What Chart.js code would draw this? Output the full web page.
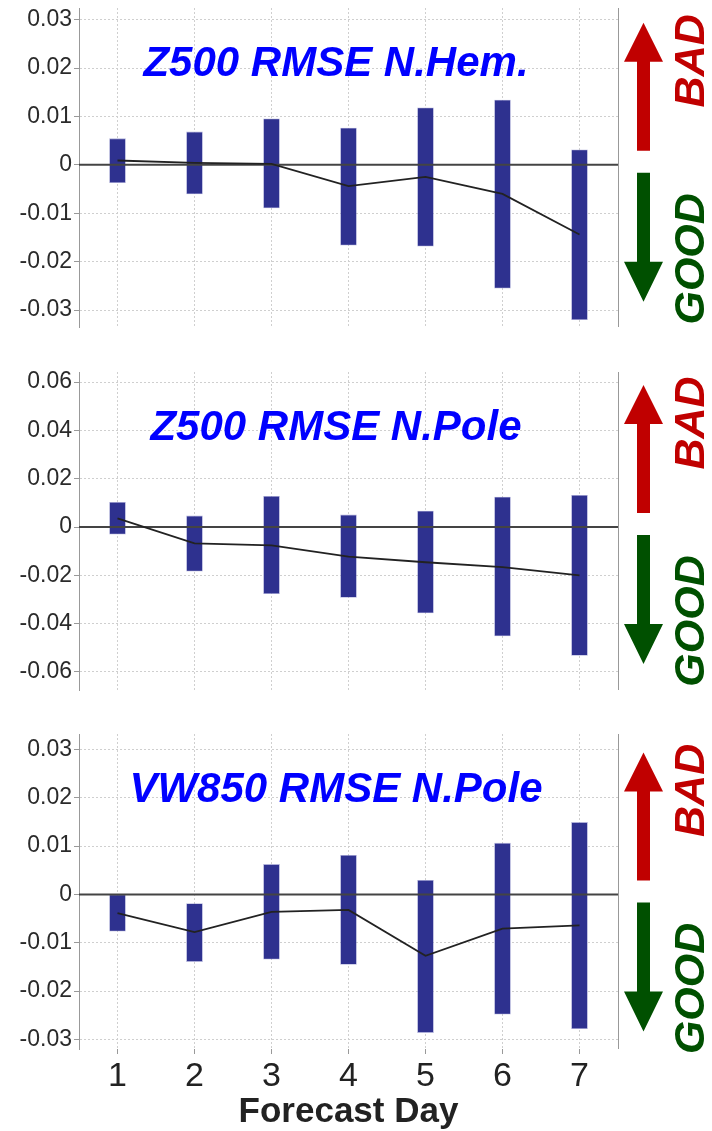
<!DOCTYPE html>
<html>
<head>
<meta charset="utf-8">
<script src="https://cdn.jsdelivr.net/npm/chart.js@4.4.1/dist/chart.umd.min.js"></script>
<style>
  html, body { margin: 0; padding: 0; background: #fff; }
  #wrap { position: relative; width: 712px; height: 1131px; }
  #wrap canvas { position: absolute; left: 0; }
</style>
</head>
<body>
<div id="wrap">
  <canvas id="nhemChart" width="712" height="330" style="top:0px"></canvas>
  <canvas id="npoleChart" width="712" height="330" style="top:364px"></canvas>
  <canvas id="vwChart" width="712" height="405" style="top:726px"></canvas>
</div>
<script>
// ## DATA ##
const days = ["1", "2", "3", "4", "5", "6", "7"];

// Z500 RMSE N.Hem.
const nhemLow = [-0.0037, -0.006, -0.0089, -0.0166, -0.0168, -0.0255, -0.032];
const nhemHigh = [0.0054, 0.0068, 0.0095, 0.0076, 0.0118, 0.0134, 0.0031];
const nhemMean = [0.0009, 0.0004, 0.0002, -0.0044, -0.0025, -0.006, -0.0144];

// Z500 RMSE N.Pole
const npoleLow = [-0.003, -0.0183, -0.0276, -0.0292, -0.0356, -0.0451, -0.0532];
const npoleHigh = [0.0102, 0.0046, 0.0127, 0.005, 0.0066, 0.0124, 0.0131];
const npoleMean = [0.0036, -0.0068, -0.0076, -0.0123, -0.0146, -0.0166, -0.02];

// VW850 RMSE N.Pole
const vwLow = [-0.0076, -0.0139, -0.0134, -0.0145, -0.0286, -0.0248, -0.0278];
const vwHigh = [0.0, -0.0019, 0.0062, 0.0081, 0.0029, 0.0106, 0.0149];
const vwMean = [-0.0039, -0.0078, -0.0036, -0.0032, -0.0127, -0.0071, -0.0064];

const smallTicks = [-0.03, -0.02, -0.01, 0, 0.01, 0.02, 0.03];
const smallTickLabels = ["-0.03", "-0.02", "-0.01", "0", "0.01", "0.02", "0.03"];
const bigTicks = [-0.06, -0.04, -0.02, 0, 0.02, 0.04, 0.06];
const bigTickLabels = ["-0.06", "-0.04", "-0.02", "0", "0.02", "0.04", "0.06"];

Chart.defaults.font.family = "'Liberation Sans', Arial, sans-serif";
Chart.defaults.color = "#2a2a2a";

const FONT = "'Liberation Sans', Arial, sans-serif";

// zero line, right frame, title, BAD / GOOD arrows
const decorPlugin = {
  id: "decor",
  afterDatasetDraw(chart, args) {
    if (args.index !== 0) return;
    const { ctx, chartArea } = chart;
    const y0 = chart.scales.y.getPixelForValue(0);
    ctx.save();
    ctx.strokeStyle = "#444";
    ctx.lineWidth = 2;
    ctx.beginPath();
    ctx.moveTo(chartArea.left, y0);
    ctx.lineTo(chartArea.right, y0);
    ctx.stroke();
    ctx.restore();
  },
  afterDraw(chart) {
    const { ctx, chartArea } = chart;
    const y0 = chart.scales.y.getPixelForValue(0);
    const opts = chart.options.plugins.decor;

    ctx.save();
    // right frame line
    ctx.strokeStyle = "#999";
    ctx.lineWidth = 1;
    ctx.beginPath();
    ctx.moveTo(chartArea.right + 0.5, chartArea.top);
    ctx.lineTo(chartArea.right + 0.5, chartArea.bottom);
    ctx.stroke();

    // panel title
    ctx.fillStyle = "#0000ff";
    ctx.font = "italic bold 42px " + FONT;
    ctx.textAlign = "center";
    ctx.textBaseline = "middle";
    ctx.fillText(opts.title, 336, chartArea.top + 56);

    // arrows
    const ax = 643.5;
    ctx.fillStyle = "#c00000";
    ctx.beginPath();
    ctx.moveTo(ax, y0 - 142);
    ctx.lineTo(ax + 19.5, y0 - 103);
    ctx.lineTo(ax + 6.5, y0 - 103);
    ctx.lineTo(ax + 6.5, y0 - 14);
    ctx.lineTo(ax - 6.5, y0 - 14);
    ctx.lineTo(ax - 6.5, y0 - 103);
    ctx.lineTo(ax - 19.5, y0 - 103);
    ctx.closePath();
    ctx.fill();

    ctx.fillStyle = "#005000";
    ctx.beginPath();
    ctx.moveTo(ax, y0 + 137);
    ctx.lineTo(ax + 19.5, y0 + 97);
    ctx.lineTo(ax + 6.5, y0 + 97);
    ctx.lineTo(ax + 6.5, y0 + 8);
    ctx.lineTo(ax - 6.5, y0 + 8);
    ctx.lineTo(ax - 6.5, y0 + 97);
    ctx.lineTo(ax - 19.5, y0 + 97);
    ctx.closePath();
    ctx.fill();

    // BAD / GOOD labels
    ctx.font = "italic bold 43px " + FONT;
    ctx.textAlign = "center";
    ctx.textBaseline = "middle";
    ctx.translate(692, y0 - 104);
    ctx.rotate(-Math.PI / 2);
    ctx.fillStyle = "#c00000";
    ctx.fillText("BAD", 0, 0);
    ctx.rotate(Math.PI / 2);
    ctx.translate(0, 198);
    ctx.rotate(-Math.PI / 2);
    ctx.fillStyle = "#005000";
    ctx.fillText("GOOD", 0, 0);
    ctx.restore();
  },
};

function createPanelChart(id, title, low, high, mean, opts) {
  const ctx = document.getElementById(id).getContext("2d");
  const ranges = days.map((d, i) => [low[i], high[i]]);

  return new Chart(ctx, {
    type: "bar",
    data: {
      labels: days,
      datasets: [
        {
          type: "bar",
          data: ranges,
          backgroundColor: "#2e318f",
          borderColor: "rgba(120,122,190,0.6)",
          borderWidth: 0.8,
          borderSkipped: false,
          barThickness: 16,
          order: 1,
        },
        {
          type: "line",
          data: mean,
          borderColor: "#222",
          borderWidth: 1.8,
          pointRadius: 0,
          fill: false,
          tension: 0,
          order: 0,
        },
      ],
    },
    plugins: [decorPlugin],
    options: {
      responsive: false,
      animation: false,
      devicePixelRatio: 1,
      layout: {
        padding: { top: 8, right: 94, bottom: opts.padBottom, left: 0 },
      },
      plugins: {
        legend: { display: false },
        tooltip: { enabled: false },
        decor: { title: title },
      },
      scales: {
        x: {
          offset: true,
          grid: {
            offset: false,
            color: "#cfcfcf",
            lineWidth: 1,
            drawTicks: opts.showX,
            tickLength: 5,
            tickColor: "#999",
            tickBorderDash: [],
          },
          border: { display: false, dash: [2, 2] },
          ticks: {
            display: opts.showX,
            padding: 2,
            color: "#222",
            font: { size: 34 },
          },
          title: {
            display: opts.showX,
            text: "Forecast Day",
            color: "#222",
            font: { size: 35, weight: "bold", lineHeight: 1.0 },
            padding: { top: 0, bottom: 1 },
          },
          afterFit: (s) => {
            s.height = opts.xHeight;
            s.paddingLeft = 0;
            s.paddingRight = 0;
          },
        },
        y: {
          min: opts.min,
          max: opts.max,
          afterBuildTicks: (s) => {
            s.ticks = opts.ticks.map((v) => ({ value: v }));
          },
          afterFit: (s) => {
            s.width = 79;
            s.paddingTop = 0;
            s.paddingBottom = 0;
          },
          grid: {
            color: "#cfcfcf",
            lineWidth: 1,
            tickLength: 5,
            tickColor: "#999",
            tickBorderDash: [],
          },
          border: { display: true, color: "#999", width: 1, dash: [2, 2] },
          ticks: {
            padding: 2,
            color: "#2a2a2a",
            font: { size: 23 },
            autoSkip: false,
            callback: (value, index) => opts.tickLabels[index],
          },
        },
      },
    },
  });
}

createPanelChart("nhemChart", "Z500 RMSE N.Hem.", nhemLow, nhemHigh, nhemMean, {
  min: -0.0335,
  max: 0.0324,
  ticks: smallTicks,
  tickLabels: smallTickLabels,
  showX: false,
  xHeight: 0,
  padBottom: 3,
});

createPanelChart("npoleChart", "Z500 RMSE N.Pole", npoleLow, npoleHigh, npoleMean, {
  min: -0.0675,
  max: 0.0642,
  ticks: bigTicks,
  tickLabels: bigTickLabels,
  showX: false,
  xHeight: 0,
  padBottom: 4,
});

createPanelChart("vwChart", "VW850 RMSE N.Pole", vwLow, vwHigh, vwMean, {
  min: -0.032,
  max: 0.0332,
  ticks: smallTicks,
  tickLabels: smallTickLabels,
  showX: true,
  xHeight: 82,
  padBottom: 0,
});
</script>
</body>
</html>
